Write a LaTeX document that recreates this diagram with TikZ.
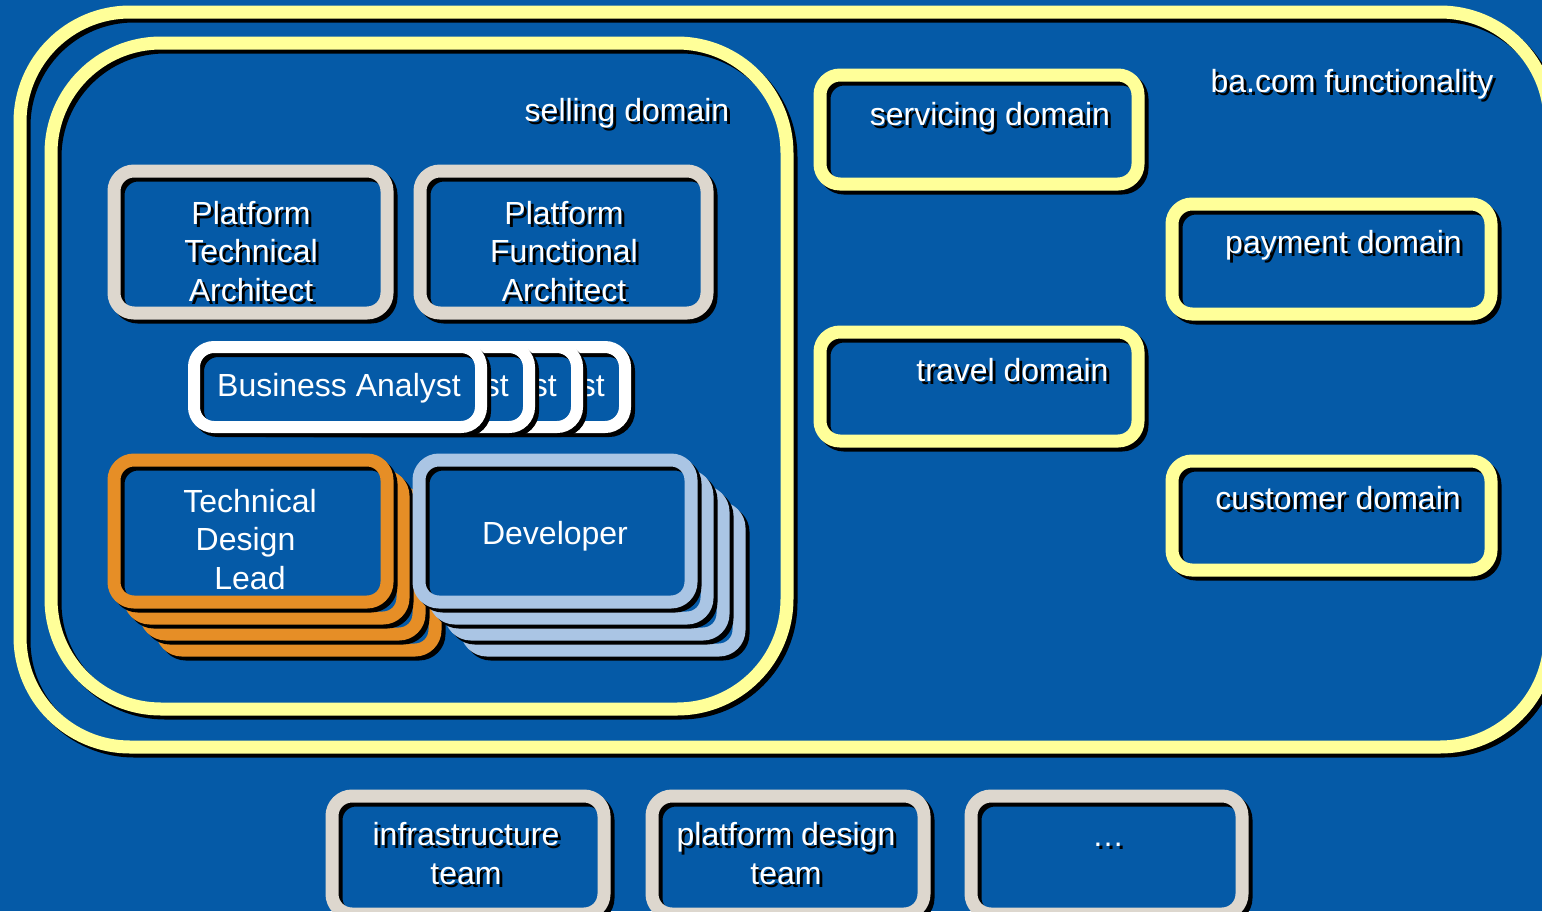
\documentclass[tikz,border=0pt]{standalone}
\usepackage{fontspec}
\setmainfont{Liberation Sans}
\usetikzlibrary{fit}
\definecolor{bg}{RGB}{5,90,167}
\definecolor{yel}{RGB}{255,255,153}
\definecolor{gry}{RGB}{221,215,206}
\definecolor{org}{RGB}{230,142,38}
\definecolor{ltblue}{RGB}{170,197,228}
\newcommand\shadowtxt[1]{\rlap{\kern1.5pt\raisebox{-1.5pt}{\color{black}#1}}#1}
\begin{document}
\begin{tikzpicture}[x=0.5pt,y=-0.5pt,
  frame/.style={draw=#1, preaction={fill=bg}, preaction={draw=black, transform canvas={xshift=2pt,yshift=-2pt}}, inner sep=0pt, outer sep=0pt},
  bigframe/.style={frame=yel, line width=6.5pt, rounded corners=55pt},
  boxframe/.style={frame=#1, line width=6.5pt, rounded corners=10pt},
  thinframe/.style={frame=#1, line width=6pt, rounded corners=10pt},
  txt/.style={text=white, font=\fontsize{16pt}{19.25pt}\selectfont, inner sep=0pt, outer sep=0pt},
  baselbl/.style={txt, anchor=base},
  multi/.style={txt, align=center, anchor=center}]
\useasboundingbox (0,0) rectangle (1542,911);
\clip (0,0) rectangle (1542,911);
\fill[bg] (0,0) rectangle (1542,911);
% outer area
\node[bigframe, fit={(20,12) (1550,747)}] (bacom) {};
\node[baselbl] (bacomtxt) at (1352,92) {\shadowtxt{ba.com functionality}};
% selling domain
\node[bigframe, fit={(51,43) (787,709)}] (selling) {};
\node[baselbl] (sellingtxt) at (627,121) {\shadowtxt{selling domain}};
% architects
\node[boxframe=gry, fit={(114,171) (387,313)}] (pta) {};
\node[multi] (ptatxt) at (251,254.8) {\shadowtxt{Platform}\strut\\\shadowtxt{Technical}\strut\\\shadowtxt{Architect}\strut};
\node[boxframe=gry, fit={(420,171) (707,313)}] (pfa) {};
\node[multi] (pfatxt) at (564,254.8) {\shadowtxt{Platform}\strut\\\shadowtxt{Functional}\strut\\\shadowtxt{Architect}\strut};
% business analysts
\foreach \k in {3,2,1,0} {
  \node[thinframe=white, fit={(194+48*\k,347) (481+48*\k,427)}] (ba\k) {};
  \node[baselbl] (batxt\k) at (339+48*\k,396) {Business Analyst};
}
% technical design leads
\foreach \k in {3,2,1} {
  \node[boxframe=org, fit={(114+16*\k,460+16*\k) (387+16*\k,602+16*\k)}] (tdl\k) {};
}
\node[boxframe=org, fit={(114,460) (387,602)}] (tdl0) {};
\node[multi] (tdltxt) at (250,542.8) {Technical\strut\\Design\hspace*{4.45pt}\strut\\Lead\strut};
% developers
\foreach \k in {3,2,1} {
  \node[boxframe=ltblue, fit={(419+16*\k,460+16*\k) (691+16*\k,602+16*\k)}] (dev\k) {};
}
\node[boxframe=ltblue, fit={(419,460) (691,602)}] (dev0) {};
\node[baselbl] (devtxt) at (555,544) {Developer};
% other domains
\node[boxframe=yel, fit={(820,75) (1138,184)}] (servicing) {};
\node[baselbl] (servicingtxt) at (990,125) {\shadowtxt{servicing domain}};
\node[boxframe=yel, fit={(820,332) (1138,441)}] (travel) {};
\node[baselbl] (traveltxt) at (1012.5,381) {\shadowtxt{travel domain}};
\node[boxframe=yel, fit={(1172,204) (1491,314)}] (payment) {};
\node[baselbl] (paymenttxt) at (1343.5,253) {\shadowtxt{payment domain}};
\node[boxframe=yel, fit={(1172,461) (1491,570)}] (customer) {};
\node[baselbl] (customertxt) at (1338,509) {\shadowtxt{customer domain}};
% teams
\node[boxframe=gry, fit={(332,796) (604,914)}] (infra) {};
\node[multi] (infratxt) at (466,857.5) {\shadowtxt{infrastructure}\strut\\\shadowtxt{team}\strut};
\node[boxframe=gry, fit={(652,796) (924,914)}] (pdt) {};
\node[multi] (pdttxt) at (786,857.5) {\shadowtxt{platform design}\strut\\\shadowtxt{team}\strut};
\node[boxframe=gry, fit={(971,796) (1242,914)}] (more) {};
\node[baselbl] (moretxt) at (1108,846) {\shadowtxt{…}};
\end{tikzpicture}
\end{document}
